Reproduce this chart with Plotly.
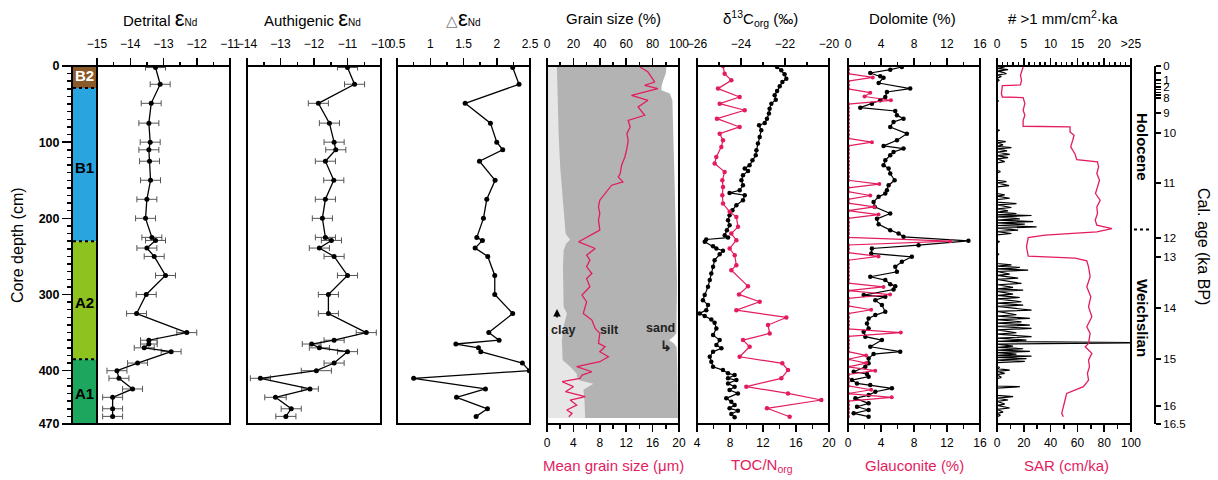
import plotly.graph_objects as go

# ---------------- DATA ----------------
nd_depth = [2, 24, 49, 75, 100, 110, 125, 150, 175, 200, 225, 229, 239, 250, 275, 300, 325, 350, 360, 365,
            370, 375, 390, 400, 410, 424, 435, 450, 460]
detrital = [-13.24, -13.1, -13.37, -13.44, -13.4, -13.44, -13.42, -13.39, -13.5, -13.54,
            -13.35, -13.24, -13.5, -13.28, -12.94, -13.52, -13.81, -12.3, -13.44, -13.44,
            -13.58, -12.77, -13.78, -14.4, -14.34, -13.93, -14.53, -14.53, -14.53]
detrital_err = [0.3, 0.3, 0.3, 0.3, 0.3, 0.3, 0.3, 0.3, 0.3, 0.3,
                0.3, 0.3, 0.3, 0.3, 0.3, 0.3, 0.3, 0.3, 0.25, 0.25,
                0.3, 0.3, 0.3, 0.3, 0.3, 0.3, 0.3, 0.3, 0.3]
authigenic = [-11.0, -10.79, -11.87, -11.54, -11.4, -11.35, -11.66, -11.41, -11.66, -11.75,
              -11.66, -11.48, -11.84, -11.4, -11.0, -11.57, -11.57, -10.44, -11.4, -12.07,
              -11.84, -11.0, -11.4, -11.93, -13.6, -12.12, -13.15, -12.68, -12.84]
authigenic_err = [0.3, 0.3, 0.3, 0.3, 0.3, 0.3, 0.3, 0.3, 0.3, 0.3,
                  0.3, 0.3, 0.3, 0.3, 0.3, 0.3, 0.3, 0.3, 0.3, 0.28,
                  0.3, 0.3, 0.3, 0.45, 0.3, 0.25, 0.32, 0.3, 0.3]
delta_nd = [2.24, 2.335, 1.525, 1.905, 2.0, 2.09, 1.74, 1.975, 1.85, 1.8,
            1.7, 1.785, 1.675, 1.865, 1.97, 1.97, 2.24, 1.88, 2.035, 1.385,
            1.725, 1.76, 2.385, 2.49, 0.75, 1.83, 1.395, 1.86, 1.69]

clay_depth = [0.5, 45, 89, 133, 176, 211, 220, 224, 228, 233, 242, 264, 290, 316, 325, 342, 360, 386, 395, 404,
              408, 413, 417, 421, 425, 438, 456, 462]
clay_pct = [7.5, 8.0, 8.8, 10.0, 12.1, 13.3, 14.1, 15.6, 17.6, 14.6, 12.6, 12.1, 12.6, 12.6, 15.1, 12.6, 11.3,
            11.8, 17.6, 22.6, 22.6, 25.1, 35.2, 31.4, 27.6, 28.4, 28.9, 28.9]
clay_silt_depth = [0.5, 10, 19, 27, 32, 36, 45, 67, 111, 154, 198, 242, 286, 325, 351, 355, 360, 364, 369, 395,
                   438, 462]
clay_silt_pct = [90.5, 90.0, 88.0, 86.7, 86.7, 93.0, 95.0, 95.5, 96.0, 96.7, 97.2, 98.0, 98.5, 98.2, 98.0, 96.0,
                 92.5, 96.0, 98.2, 98.7, 99.2, 99.2]

mgs_depth = [1.3, 7.9, 14.4, 21.0, 25.4, 29.7, 38.5, 45.0, 53.8, 64.7,
             71.3, 80.0, 88.8, 97.5, 108.4, 119.4, 130.3, 141.2, 145.6, 152.1,
             156.5, 165.3, 176.2, 184.9, 193.7, 202.4, 215.5, 230.8, 239.6, 248.3,
             254.9, 263.6, 272.4, 278.9, 289.9, 300.8, 309.5, 324.8, 333.6, 344.5,
             351.1, 364.2, 368.6, 375.1, 381.7, 388.2, 394.8, 401.4, 405.7, 410.1,
             414.5, 421.0, 427.6, 434.1, 438.5, 445.1, 451.6, 456.0, 460.4]
mean_grain = [14.1, 15.3, 15.8, 16.3, 14.8, 16.8, 12.8, 15.3, 13.8, 14.8,
              12.3, 12.6, 12.1, 12.3, 12.1, 11.8, 11.3, 11.1, 10.8, 11.5,
              9.8, 9.0, 8.0, 7.8, 8.0, 7.8, 8.0, 4.8, 7.3, 6.0,
              6.5, 6.0, 6.8, 6.0, 6.5, 5.3, 6.0, 5.5, 6.8, 7.3,
              8.0, 7.8, 8.8, 8.0, 9.3, 8.0, 4.5, 6.8, 5.3, 5.0,
              2.3, 4.0, 2.8, 5.8, 3.5, 4.5, 3.0, 3.8, 3.3]

d13c_depth = [1.3, 5.7, 10.9, 16.6, 21.0, 26.7, 32.8, 38.5, 44.2, 49.4,
              56.0, 62.5, 69.1, 74.8, 77.8, 84.4, 93.1, 101.9, 110.6, 117.2,
              123.7, 130.3, 134.7, 137.7, 143.4, 150.0, 156.5, 163.1, 166.6, 169.6,
              176.2, 182.7, 189.3, 195.9, 202.4, 209.0, 215.5, 222.1, 225.2, 227.8,
              230.8, 236.5, 239.6, 242.6, 247.0, 254.9, 263.6, 272.4, 281.1, 289.9,
              300.8, 307.4, 313.9, 320.5, 324.8, 328.3, 332.7, 337.1, 344.5, 353.3,
              359.8, 366.4, 370.7, 375.1, 381.7, 388.2, 394.8, 399.2, 403.5, 405.7,
              410.1, 412.3, 416.7, 421.0, 425.4, 429.8, 436.3, 440.7, 445.1, 449.4,
              452.5, 456.9, 461.3]
d13c = [-22.36, -22.17, -22.02, -21.94, -22.12, -22.24, -22.36, -22.47, -22.42, -22.62,
        -22.70, -22.73, -22.82, -22.92, -23.18, -23.08, -23.15, -23.23, -23.30, -23.33,
        -23.48, -23.61, -23.83, -23.68, -23.91, -23.98, -23.91, -24.06, -24.52, -23.83,
        -23.91, -24.21, -24.39, -24.52, -24.59, -24.52, -24.64, -24.74, -24.59, -25.58,
        -25.65, -25.27, -25.12, -24.82, -24.97, -25.20, -25.27, -25.35, -25.42, -25.50,
        -25.65, -25.73, -25.50, -25.58, -25.88, -25.65, -25.35, -25.20, -25.12, -25.27,
        -24.97, -25.12, -24.89, -25.27, -25.42, -25.35, -25.27, -24.82, -24.59, -24.29,
        -24.59, -24.21, -24.59, -24.29, -24.52, -24.14, -24.67, -24.44, -24.29, -24.52,
        -24.14, -24.44, -24.29]

toc_depth = [0, 10.1, 18.8, 29.7, 40.7, 49.4, 58.1, 69.1, 80.0, 88.8,
             97.5, 106.2, 119.4, 128.1, 139.0, 150.0, 158.7, 169.6, 180.6, 191.5,
             198.1, 211.2, 219.9, 228.6, 239.6, 248.3, 261.5, 268.0, 289.0, 299.9,
             309.5, 320.5, 330.1, 340.1, 351.1, 359.8, 368.6, 381.7, 390.4, 399.2,
             410.1, 421.0, 429.8, 438.5, 449.4, 460.4]
toc_n = [7.15, 7.35, 8.16, 6.55, 9.17, 6.75, 9.78, 6.42, 9.17, 6.75,
         7.15, 6.95, 6.34, 6.14, 7.35, 7.07, 7.15, 7.07, 7.15, 7.96,
         8.77, 8.97, 8.16, 8.77, 7.96, 8.57, 8.77, 8.16, 10.18, 9.09,
         11.6, 8.77, 14.83, 12.61, 12.81, 9.58, 10.38, 9.17, 14.34, 15.03,
         14.22, 9.98, 15.03, 19.07, 12.48, 15.23]

dol_depth = [1.3, 4.8, 9.2, 13.6, 15.3, 22.3, 29.7, 34.1, 40.7, 45.0,
             49.4, 54.7, 59.0, 64.7, 69.1, 73.4, 80.0, 88.8, 97.5, 104.9,
             108.4, 112.8, 117.2, 123.7, 130.3, 134.7, 141.2, 150.0, 156.5, 163.1,
             167.4, 171.8, 178.4, 184.9, 193.7, 200.7, 207.7, 215.5, 219.9, 224.3,
             229.5, 235.2, 239.6, 246.1, 250.5, 257.1, 263.6, 270.2, 276.7, 281.1,
             286.4, 289.0, 293.4, 300.8, 303.0, 307.4, 313.9, 322.7, 327.0, 331.4,
             338.0, 344.5, 348.9, 355.4, 359.8, 368.6, 375.1, 378.2, 383.9, 390.4,
             394.8, 401.4, 404.4, 407.9, 412.3, 416.7, 418.8, 423.2, 427.6, 432.0,
             436.3, 442.9, 447.3, 451.6, 456.0, 460.4]
dolomite = [6.53, 5.12, 2.70, 3.91, 4.31, 3.71, 7.54, 4.72, 4.52, 3.91,
            2.90, 1.49, 5.73, 5.93, 6.73, 5.52, 5.12, 7.14, 5.93, 4.31,
            6.73, 5.52, 5.12, 4.52, 4.31, 4.92, 5.12, 5.65, 4.92, 4.72,
            4.52, 3.71, 3.10, 3.23, 5.12, 3.51, 3.71, 5.12, 6.13, 6.73,
            14.6, 8.55, 2.90, 2.82, 7.74, 6.53, 5.73, 5.93, 2.70, 4.52,
            5.12, 5.73, 5.52, 1.90, 4.52, 3.31, 4.11, 4.52, 3.31, 2.50,
            2.30, 2.50, 1.90, 2.10, 4.11, 2.70, 6.33, 3.10, 2.50, 2.50,
            2.10, 0.69, 2.30, 2.50, 0.48, 1.09, 2.70, 5.32, 3.31, 2.50,
            0.89, 2.50, 1.09, 2.50, 0.69, 2.50]

glauc_depth = [0, 5, 10, 15, 20, 25, 30, 35, 40, 45, 50, 55, 60, 65, 70, 75, 80, 85, 90, 95,
               100, 105, 110, 115, 120, 125, 130, 135, 140, 145, 150, 155, 160, 165, 170, 175, 180, 185, 190, 195,
               200, 205, 210, 215, 220, 225, 230, 235, 240, 245, 250, 255, 260, 265, 270, 275, 280, 285, 290, 295,
               300, 305, 310, 315, 320, 325, 330, 335, 340, 345, 350, 355, 360, 365, 370, 375, 380, 385, 390, 395,
               400, 405, 410, 415, 420, 425, 430, 435, 440, 445, 450, 455, 460]
glauconite = [0, 0, 0, 3.0, 0, 0, 0, 2.7, 2.0, 5.2, 0, 0, 0, 0, 0, 0, 0, 0, 0, 0,
              2.9, 0, 0, 0, 0, 0, 0, 0, 0, 0, 0, 3.8, 0, 0, 2.7, 0, 0, 3.2, 0, 3.7,
              0, 0, 0, 0, 0, 0, 12.4, 0, 0, 0, 3.7, 0, 0, 0, 0, 0, 0, 0, 4.3, 0,
              5.1, 0, 0, 0, 2.8, 0, 0, 0, 0, 0, 6.4, 0, 0, 0, 0, 0, 2.2, 0, 2.2, 0,
              3.3, 0, 0, 0, 0, 2.8, 0, 5.3, 0, 0, 0, 0, 0]

num_depth = [1.3, 3.1, 4.8, 6.6, 8.3, 10.1, 11.8, 13.6, 16.2, 18.8,
             21.4, 45.0, 45.9, 47.7, 83.5, 84.4, 86.1, 97.5, 99.2, 101.0,
             103.6, 105.4, 107.1, 108.9, 111.5, 113.2, 115.9, 117.6, 120.2, 122.0,
             125.5, 127.2, 136.8, 138.6, 140.3, 150.0, 151.7, 153.5, 157.0, 158.7,
             167.4, 169.2, 170.9, 173.6, 175.3, 178.8, 180.6, 182.3, 185.8, 187.6,
             190.2, 191.9, 193.7, 195.4, 196.3, 198.1, 200.7, 202.4, 204.2, 205.9,
             207.7, 209.4, 211.2, 212.9, 215.5, 217.3, 219.9, 221.7, 229.5, 230.4,
             232.2, 246.1, 247.0, 248.8, 259.3, 261.0, 262.8, 264.5, 266.3, 268.0,
             269.8, 273.3, 275.0, 278.5, 280.2, 285.5, 287.2, 290.7, 292.5, 294.2,
             296.0, 299.5, 301.2, 303.9, 305.6, 309.5, 311.3, 313.9, 315.7, 320.5,
             322.2, 326.6, 328.3, 331.4, 333.1, 335.8, 337.5, 340.1, 341.9, 344.5,
             346.3, 350.2, 351.9, 355.4, 357.2, 359.8, 361.6, 363.3, 365.1, 367.7,
             369.4, 371.2, 372.9, 374.7, 376.4, 378.2, 379.9, 380.8, 382.6, 384.3,
             386.1, 387.8, 389.5, 394.8, 395.7, 397.4, 399.2, 400.9, 403.5, 405.3,
             408.8, 410.5, 420.1, 421.0, 422.8, 432.4, 434.1, 435.9, 438.5, 440.3,
             443.8, 445.5, 449.0, 450.8, 454.3, 456.0, 458.6, 460.4]
num_grains = [1.44, 0, 2.06, 0, 1.13, 1.75, 0, 0.81, 0, 0.38,
              0, 0, 0.25, 0, 0, 0.5, 0, 0, 1.63, 0,
              1.13, 0, 2.69, 0, 1.88, 0, 2.38, 0, 2.06, 0,
              1.44, 0, 0, 0.63, 0, 0, 1.75, 0, 2.25, 0,
              0, 1.44, 0, 2.38, 0, 0, 3.63, 0, 2.69, 0,
              2.06, 0, 3.63, 0, 6.44, 0, 4.25, 0, 6.75, 0,
              5.19, 0, 7.38, 0, 3.94, 0, 2.69, 0, 0, 0.5,
              0, 0, 0.38, 0, 0, 2.69, 0, 4.25, 0, 5.81,
              0, 2.38, 0, 3.94, 0, 4.56, 0, 3.0, 0, 4.88,
              0, 3.0, 0, 4.25, 0, 4.56, 0, 4.88, 0, 6.44,
              0, 3.63, 0, 6.13, 0, 4.56, 0, 6.13, 0, 6.44,
              0, 3.63, 0, 6.44, 0, 5.5, 0, 30, 0, 3.0,
              0, 4.88, 0, 6.13, 0, 3.63, 0, 6.44, 0, 5.5,
              0, 5.19, 0, 0, 0.5, 0, 2.38, 0, 1.44, 0,
              0.81, 0, 0, 4.25, 0, 0, 3.0, 0, 2.06, 0,
              1.44, 0, 2.38, 0, 1.13, 0, 0.63, 0]

sar_depth = [1.3, 6.6, 12.2, 18.8, 24.9, 25.8, 36.3, 40.7, 41.5, 49.4,
             58.1, 64.7, 71.3, 79.1, 80.0, 86.6, 90.9, 97.5, 106.2, 115.9,
             122.9, 125.9, 132.5, 141.2, 150.0, 158.7, 167.4, 176.2, 184.9, 193.7,
             202.4, 209.0, 213.4, 217.7, 222.1, 225.2, 237.4, 249.6, 252.3, 255.8,
             263.6, 276.7, 289.9, 303.0, 316.1, 329.2, 342.3, 351.1, 364.2, 368.6,
             377.3, 386.1, 394.8, 403.5, 412.3, 421.0, 425.4, 429.8, 438.5, 447.3,
             456.0, 460.4]
sar = [19.5, 18.3, 17.5, 18.3, 17.5, 4.0, 3.3, 4.0, 19.5, 20.8,
       19.5, 20.8, 19.5, 19.5, 54.5, 54.5, 57.5, 56.5, 55.0, 58.3,
       59.5, 75.0, 75.8, 74.5, 76.5, 75.0, 73.5, 77.0, 74.5, 75.0,
       73.3, 74.5, 85.8, 74.5, 35.8, 23.3, 22.0, 23.3, 58.3, 67.0,
       68.3, 69.5, 67.0, 70.0, 68.3, 70.8, 67.0, 69.5, 68.3, 65.8,
       70.8, 68.3, 69.0, 67.5, 68.3, 64.5, 58.3, 52.0, 50.8, 49.5,
       48.3, 49.5]

litho_units = ["B2", "B1", "A2", "A1"]
litho_top = [0, 29, 230, 385]
litho_bottom = [29, 230, 385, 470]
litho_colors = ["#8B5A2B", "#29A4DF", "#8DC21F", "#1CA65E"]
litho_label_depth = [13, 133, 311, 430]

age_labels = ["0", "1", "2", "8", "9", "10", "11", "12", "13", "14", "15", "16", "16.5"]
age_depth = [0, 18.4, 27.8, 42, 62, 88, 153.6, 225.8, 250.7, 317.6, 384.6, 446.3, 470]
age_minor_depth = [9, 23, 31, 34.5, 38]
holocene_boundary_depth = 214.5

depth_ticks = [0, 100, 200, 300, 400, 470]

# ---------------- LAYOUT HELPERS ----------------
W, H = 1218, 480
FONT = "Liberation Sans, Arial, sans-serif"
RED = "#E31C5F"
TOP, BOT = 66, 424


def px(x):
    return x / W


def py(y):
    return 1 - y / H


panels = {
    "p1": (97, 230), "p2": (247, 381), "p3": (397, 530), "p4": (547, 679),
    "p5": (697, 829), "p6": (848, 980), "p7": (997, 1131),
}


def xaxis(panel, rng, side, tickvals, minor_dtick, ticktext=None, overlaying=None):
    l, r = panels[panel]
    d = dict(
        domain=[px(l), px(r)], range=rng, anchor="y", side=side, automargin=False,
        showgrid=False, zeroline=False, showline=False,
        ticks="outside", ticklen=7, tickwidth=1.5, tickcolor="black",
        tickmode="array", tickvals=tickvals,
        tickfont=dict(size=12, color="black", family=FONT),
        minor=dict(ticks="outside", ticklen=3.5, tickwidth=1.5, tickcolor="black",
                   dtick=minor_dtick, tick0=rng[0], showgrid=False),
        ticklabelstandoff=5 if side == "top" else 1,
        fixedrange=True,
    )
    if ticktext is not None:
        d["ticktext"] = ticktext
    if overlaying:
        d["overlaying"] = overlaying
    return d


fig = go.Figure()

line_k = dict(color="black", width=1.3)

# Panel 1 - detrital
fig.add_trace(go.Scatter(x=detrital, y=nd_depth, xaxis="x", yaxis="y", mode="lines+markers",
                         line=line_k, marker=dict(size=5, color="black"),
                         error_x=dict(type="data", array=detrital_err, color="#555555", thickness=1, width=3)))
# Panel 2 - authigenic
fig.add_trace(go.Scatter(x=authigenic, y=nd_depth, xaxis="x2", yaxis="y", mode="lines+markers",
                         line=line_k, marker=dict(size=5, color="black"),
                         error_x=dict(type="data", array=authigenic_err, color="#555555", thickness=1, width=3)))
# Panel 3 - delta
fig.add_trace(go.Scatter(x=delta_nd, y=nd_depth, xaxis="x3", yaxis="y", mode="lines+markers",
                         line=line_k, marker=dict(size=5, color="black")))
# Panel 4 - grain size
fig.add_trace(go.Scatter(x=clay_silt_pct, y=clay_silt_depth, xaxis="x4", yaxis="y", mode="lines",
                         line=dict(width=0, color="#B3B3B3"), fill="tozerox", fillcolor="#B3B3B3"))
fig.add_trace(go.Scatter(x=clay_pct, y=clay_depth, xaxis="x4", yaxis="y", mode="lines",
                         line=dict(width=0, color="#E6E6E6"), fill="tozerox", fillcolor="#E6E6E6"))
fig.add_trace(go.Scatter(x=mean_grain, y=mgs_depth, xaxis="x5", yaxis="y", mode="lines",
                         line=dict(color=RED, width=1.3)))
# Panel 5 - d13C / TOC/N
fig.add_trace(go.Scatter(x=d13c, y=d13c_depth, xaxis="x6", yaxis="y", mode="lines+markers",
                         line=dict(color="black", width=1.2), marker=dict(size=4.5, color="black")))
fig.add_trace(go.Scatter(x=toc_n, y=toc_depth, xaxis="x7", yaxis="y", mode="lines+markers",
                         line=dict(color=RED, width=1.2), marker=dict(size=4.5, color=RED)))
# Panel 6 - dolomite / glauconite
fig.add_trace(go.Scatter(x=dolomite, y=dol_depth, xaxis="x8", yaxis="y", mode="lines+markers",
                         line=dict(color="black", width=1.2), marker=dict(size=4.5, color="black")))
fig.add_trace(go.Scatter(x=glauconite, y=glauc_depth, xaxis="x9", yaxis="y", mode="lines+markers",
                         line=dict(color=RED, width=1.2), marker=dict(size=4, color=RED)))
# Panel 7 - grains / SAR
fig.add_trace(go.Scatter(x=num_grains, y=num_depth, xaxis="x10", yaxis="y", mode="lines",
                         line=dict(color="black", width=1.2)))
fig.add_trace(go.Scatter(x=sar, y=sar_depth, xaxis="x11", yaxis="y", mode="lines",
                         line=dict(color=RED, width=1.3)))
# dummy for age axis
fig.add_trace(go.Scatter(x=[None], y=[None], xaxis="x", yaxis="y2", mode="markers"))

ydom = [py(BOT), py(TOP)]

layout = dict(
    width=W, height=H, margin=dict(l=0, r=0, t=0, b=0, pad=0), autosize=False,
    paper_bgcolor="white", plot_bgcolor="rgba(0,0,0,0)", showlegend=False,
    font=dict(family=FONT, color="black"),
    yaxis=dict(domain=ydom, range=[470, 0], anchor="free", position=px(72), side="left", automargin=False,
               showline=True, linewidth=2, linecolor="black", showgrid=False, zeroline=False,
               ticks="outside", ticklen=9, tickwidth=1.5, tickcolor="black",
               tickmode="array", tickvals=depth_ticks,
               ticktext=["<b>%d</b>" % v for v in depth_ticks],
               tickfont=dict(size=12.5, family=FONT, color="black"),
               minor=dict(ticks="outside", ticklen=4, tickwidth=1.5, tickcolor="black", dtick=10, tick0=0),
               fixedrange=True),
    yaxis2=dict(domain=ydom, range=[470, 0], anchor="free", position=px(1155), side="right", automargin=False,
                overlaying="y", showline=True, linewidth=2, linecolor="black", showgrid=False,
                zeroline=False, ticks="outside", ticklen=5, tickwidth=1.5, tickcolor="black",
                tickmode="array", tickvals=age_depth + age_minor_depth,
                ticktext=age_labels + [" "] * len(age_minor_depth),
                tickfont=dict(size=11.5, family=FONT, color="black"), fixedrange=True),
    xaxis=xaxis("p1", [-15, -11], "top", [-15, -14, -13, -12, -11], 0.5),
    xaxis2=xaxis("p2", [-14, -10], "top", [-14, -13, -12, -11, -10], 0.5),
    xaxis3=xaxis("p3", [0.5, 2.5], "top", [0.5, 1, 1.5, 2, 2.5], 0.25),
    xaxis4=xaxis("p4", [0, 100], "top", [0, 20, 40, 60, 80, 100], 10),
    xaxis5=xaxis("p4", [0, 20], "bottom", [0, 4, 8, 12, 16, 20], 2, overlaying="x4"),
    xaxis6=xaxis("p5", [-26, -20], "top", [-26, -24, -22, -20], 1),
    xaxis7=xaxis("p5", [4, 20], "bottom", [4, 8, 12, 16, 20], 2, overlaying="x6"),
    xaxis8=xaxis("p6", [0, 16], "top", [0, 4, 8, 12, 16], 2),
    xaxis9=xaxis("p6", [0, 16], "bottom", [0, 4, 8, 12, 16], 2, overlaying="x8"),
    xaxis10=xaxis("p7", [0, 25], "top", [0, 5, 10, 15, 20, 25], 1,
                  ticktext=["0", "5", "10", "15", "20", ">25"]),
    xaxis11=xaxis("p7", [0, 100], "bottom", [0, 20, 40, 60, 80, 100], 10, overlaying="x10"),
)

shapes = []
# lithology column
for top, bot, col in zip(litho_top, litho_bottom, litho_colors):
    shapes.append(dict(type="rect", xref="paper", yref="y", x0=px(72), x1=px(97), y0=top, y1=bot,
                       fillcolor=col, line=dict(width=0), layer="above"))
for b in litho_top[1:]:
    shapes.append(dict(type="line", xref="paper", yref="y", x0=px(73), x1=px(96), y0=b, y1=b,
                       line=dict(color="black", width=2, dash="dot"), layer="above"))
shapes.append(dict(type="rect", xref="paper", yref="paper", x0=px(72), x1=px(97), y0=py(BOT), y1=py(TOP),
                   line=dict(color="black", width=2), layer="above"))
# panel frames
for l, r in panels.values():
    shapes.append(dict(type="rect", xref="paper", yref="paper", x0=px(l), x1=px(r), y0=py(BOT), y1=py(TOP),
                       line=dict(color="black", width=2), layer="above"))
# Holocene / Weichselian boundary
shapes.append(dict(type="line", xref="paper", yref="y", x0=px(1134), x1=px(1152),
                   y0=holocene_boundary_depth, y1=holocene_boundary_depth,
                   line=dict(color="black", width=2, dash="dot"), layer="above"))
layout["shapes"] = shapes

ann = []


def txt(x, y, text, size=15, color="black", angle=0, yref="paper", **kw):
    ann.append(dict(x=px(x), y=py(y) if yref == "paper" else y, xref="paper", yref=yref, text=text,
                    showarrow=False, textangle=angle, xanchor="center", yanchor="middle",
                    font=dict(size=size, color=color, family=FONT), **kw))


EPS = "<span style='font-size:22px'>ε</span><span style='font-size:10px'>Nd</span>"
txt(160, 19, "Detrital " + EPS)
txt(312, 19, "Authigenic " + EPS)
txt(463, 19, "<span style='color:#777'>△</span>" + EPS)
txt(613, 19, "Grain size (%)")
txt(760, 19, "δ<sup>13</sup>C<sub>org</sub> (‰)")
txt(912, 19, "Dolomite (%)")
txt(1063, 18, "# >1 mm/cm<sup>2</sup>·ka")

txt(613, 465, "Mean grain size (μm)", color=RED)
txt(762, 465, "TOC/N<sub>org</sub>", color=RED)
txt(914, 465, "Glauconite (%)", color=RED)
txt(1066, 465, "SAR (cm/ka)", color=RED)

txt(18, 245, "Core depth (cm)", size=16, angle=-90)
txt(1203, 246, "Cal. age (ka BP)", size=16, angle=90)
txt(1143, 147, "<b>Holocene</b>", size=15, angle=90)
txt(1143, 318, "<b>Weichslian</b>", size=15, angle=90)

for name, d in zip(litho_units, litho_label_depth):
    ann.append(dict(x=px(84.5), y=d, xref="paper", yref="y", text="<b>%s</b>" % name, showarrow=False,
                    xanchor="center", yanchor="middle",
                    font=dict(size=15, family=FONT, color="white" if name == "B2" else "black")))

txt(563, 330, "<b>clay</b>", size=12.5, color="#222")
txt(609, 330, "<b>silt</b>", size=12.5, color="#222")
txt(660, 328, "<b>sand</b>", size=12.5, color="#222")
ann.append(dict(x=px(557), y=py(309), xref="paper", yref="paper", ax=0, ay=10,
                axref="pixel", ayref="pixel", text="", showarrow=True, arrowhead=2, arrowsize=1,
                arrowwidth=1.5, arrowcolor="black"))
txt(666, 346, "<b>↳</b>", size=14, color="#222")

layout["annotations"] = ann
fig.update_layout(**layout)
fig.write_html("out.html", config={"displayModeBar": False, "staticPlot": True},
               post_script="document.body.style.margin='0';document.body.style.padding='0';")
